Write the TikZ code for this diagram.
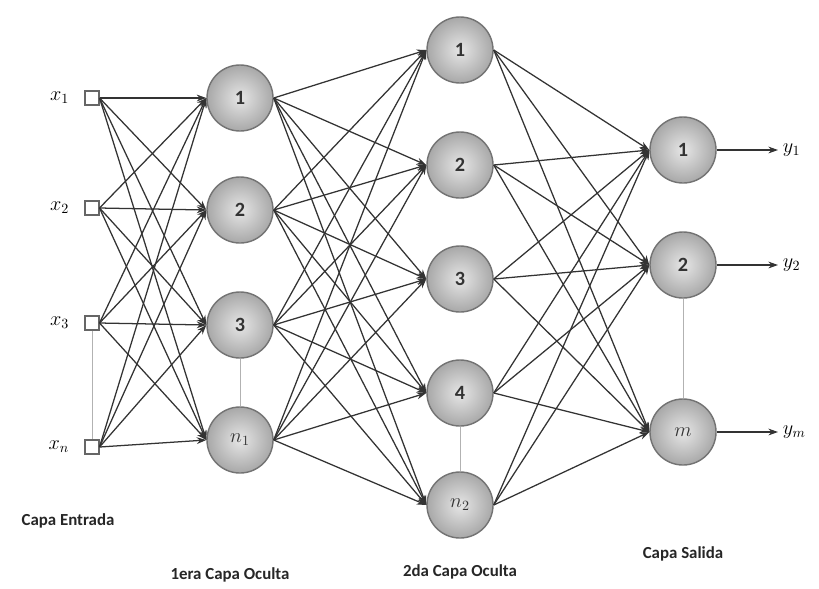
\documentclass[tikz,border=0pt]{standalone}
\usepackage{fontspec}
\setmainfont{Carlito}
\setsansfont{Carlito}
\usepackage{tikz}
\usetikzlibrary{arrows.meta, positioning, calc}
\definecolor{NodeRim}{HTML}{A8A8A8}
\definecolor{NodeCore}{HTML}{E6E6E6}
\definecolor{EdgeDark}{HTML}{333333}

\begin{document}
\begin{tikzpicture}[
        x=0.025cm, y=-0.025cm, >=Stealth,
        inp/.style={draw=black!60, line width=1.3pt, fill=white, minimum size=0.33cm, inner sep=0pt},
        neuron/.style={circle, draw=black!55, line width=1pt, shading=radial, inner color=NodeCore,
          outer color=NodeRim, minimum size=1.65cm, inner sep=0pt, font=\sffamily\bfseries\Large, text=black!80},
        conn/.style={EdgeDark, line width=0.9pt, -{Stealth[length=2.4mm, width=1.7mm]}},
        gap/.style={black!30, line width=0.6pt},
        xlab/.style={anchor=east, font=\Large},
        ylab/.style={anchor=west, font=\Large},
        lay/.style={font=\large\bfseries, text=black!85},
      ]
        \useasboundingbox (0,0) rectangle (819,588);
        % --- capa de entrada ---
        \foreach \i/\y/\s in {1/98/1, 2/208/2, 3/323/3, 4/447/n}{
          \node[inp] (in\i) at (92,\y) {};
          \node[xlab] (x\i) at (74,\y) {$x_{\s}$};
        }
        % --- 1era capa oculta ---
        \foreach \i/\y/\s in {1/98/1, 2/210/2, 3/325/3, 4/440/{$n_1$}}{
          \node[neuron] (h\i) at (240,\y) {\s};
        }
        % --- 2da capa oculta ---
        \foreach \i/\y/\s in {1/50/1, 2/165/2, 3/279/3, 4/393/4, 5/505/{$n_2$}}{
          \node[neuron] (k\i) at (460,\y) {\s};
        }
        % --- capa de salida ---
        \foreach \i/\y/\s/\t in {1/150/1/1, 2/265/2/2, 3/432/{$m$}/m}{
          \node[neuron] (o\i) at (683,\y) {\s};
          \node[ylab] (y\i) at (778,\y) {$y_{\t}$};
        }
        % lineas de omision (gris)
        \draw[gap] (in3) -- (in4);
        \draw[gap] (h3) -- (h4);
        \draw[gap] (k4) -- (k5);
        \draw[gap] (o2) -- (o3);
        % conexiones entre capas
        \foreach \i in {1,...,4}{
          \foreach \j in {1,...,4}{
            \draw[conn] (in\i.east) -- (h\j.west);
          }
          \foreach \j in {1,...,5}{
            \draw[conn] (h\i.east) -- (k\j.west);
          }
        }
        \foreach \i in {1,...,5}{
          \foreach \j in {1,...,3}{
            \draw[conn] (k\i.east) -- (o\j.west);
          }
        }
        \foreach \j in {1,...,3}{
          \draw[conn] (o\j.east) -- (y\j.west);
        }
        % --- nombres de las capas ---
        \node[lay] (lIn) at (68,521) {Capa Entrada};
        \node[lay] (lH1) at (230,575) {1era Capa Oculta};
        \node[lay] (lH2) at (460,572) {2da Capa Oculta};
        \node[lay] (lOut) at (683,554) {Capa Salida};
      \end{tikzpicture}
\end{document}
